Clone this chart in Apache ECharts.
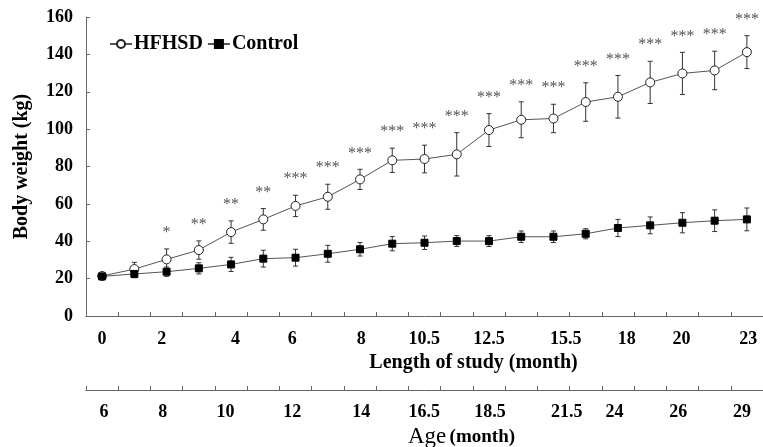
<!DOCTYPE html>
<html>
<head>
<meta charset="utf-8">
<script src="https://cdn.jsdelivr.net/npm/echarts@6/dist/echarts.min.js"></script>
<style>
  html, body { margin: 0; padding: 0; background: #fff; }
  #chart { width: 763px; height: 447px; }
</style>
</head>
<body>
<div id="chart"></div>
<script>
// measurement points (21 of them, evenly spaced on the plot)
const timePoints = ['t0', 't1', 't2', 't3', 't4', 't5', 't6', 't7', 't8', 't9', 't10',
  't11', 't12', 't13', 't14', 't15', 't16', 't17', 't18', 't19', 't20']

const hfhsdMean = [21.4, 25.1, 30.3, 35.3, 44.9, 51.7, 58.9, 63.8, 73.1, 83.3, 84.0,
  86.5, 99.5, 105.0, 105.7, 114.5, 117.3, 125.0, 129.8, 131.4, 141.2]
const hfhsdErr = [1.5, 3.6, 5.6, 4.9, 6.0, 5.8, 5.7, 6.7, 5.4, 6.5, 7.4,
  11.6, 8.8, 9.6, 7.6, 10.3, 11.4, 11.3, 11.3, 10.3, 8.8]
const controlMean = [21.2, 22.5, 23.7, 25.5, 27.6, 30.7, 31.2, 33.3, 35.7, 38.7, 39.2,
  40.1, 40.1, 42.4, 42.4, 44.0, 47.1, 48.5, 49.9, 51.0, 51.7]
const controlErr = [1.0, 2.0, 2.5, 3.0, 3.8, 4.5, 4.5, 4.5, 3.6, 3.8, 3.6,
  2.9, 2.9, 3.1, 3.1, 2.7, 4.6, 4.5, 5.4, 5.8, 6.1]
const stars = ['', '', '*', '**', '**', '**', '***', '***', '***', '***', '***',
  '***', '***', '***', '***', '***', '***', '***', '***', '***', '***']

// tick labels of the two lower axes, with where they sit (in axis units, 0..21)
const studyLabels = ['0', '2', '4', '6', '8', '10.5', '12.5', '15.5', '18', '20', '23']
const studyLabelAt = [0.5, 2.35, 4.64, 6.4, 8.54, 10.49, 12.5, 14.88, 16.77, 18.47, 20.54]
const ageLabels = ['6', '8', '10', '12', '14', '16.5', '18.5', '21.5', '24', '26', '29']
const ageLabelAt = [0.56, 2.38, 4.33, 6.4, 8.54, 10.49, 12.53, 14.91, 16.39, 18.37, 20.35]

const yTicks = [0, 20, 40, 60, 80, 100, 120, 140, 160]

const FONT = 'Liberation Serif'
const AXIS_COLOR = '#666'

const chart = echarts.init(document.getElementById('chart'))

function errorBars(means, errs, withStars) {
  return {
    type: 'custom',
    xAxisIndex: 0,
    yAxisIndex: 0,
    z: 1,
    silent: true,
    data: means.map((m, i) => [i, m, errs[i]]),
    encode: { x: 0, y: 1 },
    renderItem(params, api) {
      const i = api.value(0)
      const m = api.value(1)
      const e = api.value(2)
      const hi = api.coord([i, m + e])
      const lo = api.coord([i, m - e])
      const hw = 2.5
      const st = { stroke: '#333', lineWidth: 1 }
      const children = [
        { type: 'line', shape: { x1: hi[0], y1: hi[1], x2: lo[0], y2: lo[1] }, style: st },
        { type: 'line', shape: { x1: hi[0] - hw, y1: hi[1], x2: hi[0] + hw, y2: hi[1] }, style: st },
        { type: 'line', shape: { x1: lo[0] - hw, y1: lo[1], x2: lo[0] + hw, y2: lo[1] }, style: st }
      ]
      if (withStars && stars[params.dataIndex]) {
        children.push({
          type: 'text',
          z2: 10,
          style: {
            text: stars[params.dataIndex],
            x: hi[0],
            y: hi[1] - 16,
            align: 'center',
            verticalAlign: 'middle',
            fill: '#555',
            font: '16px ' + FONT
          }
        })
      }
      return { type: 'group', children }
    }
  }
}

chart.setOption({
  animation: false,
  backgroundColor: '#fff',
  grid: { left: 86, right: 0, top: 17, bottom: 131, outerBoundsMode: 'none', containLabel: false },
  legend: {
    left: 104,
    top: 29,
    itemWidth: 22,
    itemHeight: 10,
    itemGap: 4,
    textStyle: { fontFamily: FONT, fontWeight: 'bold', fontSize: 20, color: '#000', padding: [0, 0, 0, -3] },
    data: ['HFHSD', 'Control']
  },
  xAxis: [
    {
      // data axis, hidden
      type: 'category',
      data: timePoints,
      boundaryGap: true,
      show: false
    },
    {
      type: 'value',
      position: 'bottom',
      min: 0,
      max: 21,
      interval: 1,
      axisLine: { show: true, lineStyle: { color: AXIS_COLOR } },
      axisTick: { show: true, inside: true, length: 4, lineStyle: { color: AXIS_COLOR } },
      splitLine: { show: false },
      axisLabel: {
        customValues: studyLabelAt,
        formatter: v => studyLabels[studyLabelAt.indexOf(v)],
        margin: 14,
        fontFamily: FONT,
        fontWeight: 'bold',
        fontSize: 18,
        color: '#000'
      },
      name: 'Length of study (month)',
      nameLocation: 'middle',
      nameGap: 35,
      nameTextStyle: { fontFamily: FONT, fontWeight: 'bold', fontSize: 20, color: '#000', padding: [0, 0, 0, 98] }
    },
    {
      type: 'value',
      position: 'bottom',
      offset: 74,
      min: 0,
      max: 21,
      interval: 1,
      axisLine: { show: true, onZero: false, lineStyle: { color: AXIS_COLOR } },
      axisTick: { show: true, inside: true, length: 4, lineStyle: { color: AXIS_COLOR } },
      splitLine: { show: false },
      axisLabel: {
        customValues: ageLabelAt,
        formatter: v => ageLabels[ageLabelAt.indexOf(v)],
        margin: 13,
        fontFamily: FONT,
        fontWeight: 'bold',
        fontSize: 18,
        color: '#000'
      },
      name: '{a|Age} {b|(month)}',
      nameLocation: 'middle',
      nameGap: 35,
      nameTextStyle: {
        padding: [0, 0, 0, 74],
        rich: {
          a: { fontFamily: FONT, fontSize: 23, color: '#000' },
          b: { fontFamily: FONT, fontWeight: 'bold', fontSize: 19, color: '#000' }
        }
      }
    }
  ],
  yAxis: {
    type: 'value',
    min: yTicks[0],
    max: yTicks[yTicks.length - 1],
    interval: 20,
    axisLine: { show: true, lineStyle: { color: AXIS_COLOR } },
    axisTick: { show: true, inside: true, length: 4, lineStyle: { color: AXIS_COLOR } },
    splitLine: { show: false },
    axisLabel: { margin: 13, fontFamily: FONT, fontWeight: 'bold', fontSize: 18, color: '#000' },
    name: 'Body weight (kg)',
    nameLocation: 'middle',
    nameGap: 54,
    nameTextStyle: { fontFamily: FONT, fontWeight: 'bold', fontSize: 20, color: '#000' }
  },
  series: [
    errorBars(hfhsdMean, hfhsdErr, true),
    errorBars(controlMean, controlErr, false),
    {
      name: 'HFHSD',
      type: 'line',
      xAxisIndex: 0,
      z: 3,
      data: hfhsdMean,
      symbol: 'circle',
      symbolSize: 9,
      lineStyle: { color: '#555', width: 1 },
      itemStyle: { color: '#fff', borderColor: '#222', borderWidth: 1 }
    },
    {
      name: 'Control',
      type: 'line',
      xAxisIndex: 0,
      z: 3,
      data: controlMean,
      symbol: 'rect',
      symbolSize: 7,
      lineStyle: { color: '#555', width: 1 },
      itemStyle: { color: '#000', borderColor: '#000', borderWidth: 1 }
    }
  ]
})
</script>
</body>
</html>
